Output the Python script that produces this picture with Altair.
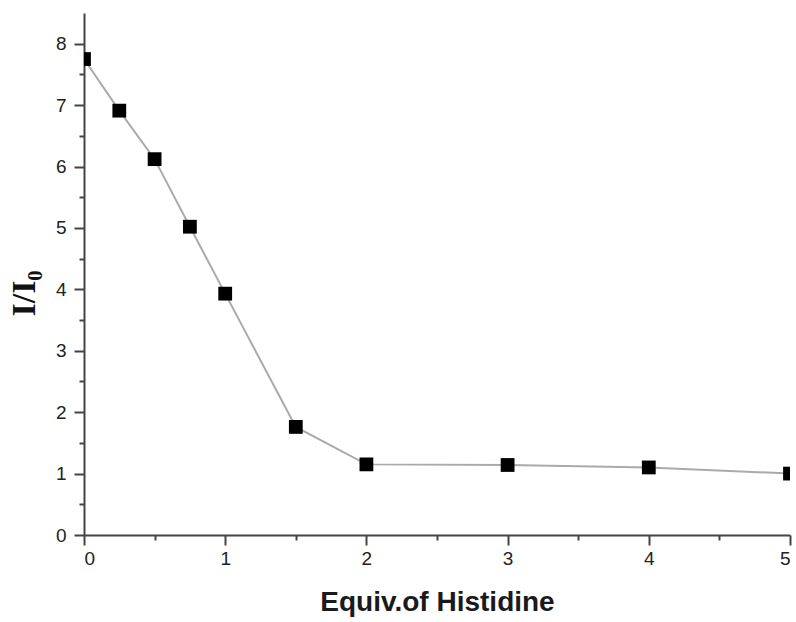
import altair as alt
import pandas as pd

equiv = [0, 0.25, 0.5, 0.75, 1, 1.5, 2, 3, 4, 5]
ratio = [7.75, 6.91, 6.12, 5.02, 3.93, 1.76, 1.15, 1.14, 1.10, 1.00]

x_ticks = [0, 0.5, 1, 1.5, 2, 2.5, 3, 3.5, 4, 4.5, 5]
y_ticks = [0, 0.5, 1, 1.5, 2, 2.5, 3, 3.5, 4, 4.5, 5, 5.5, 6, 6.5, 7, 7.5, 8]

df = pd.DataFrame({"x": equiv, "y": ratio})

label_expr = "datum.value % 1 === 0 ? format(datum.value, 'd') : ''"
# minor (half-unit) ticks drawn half as long via a dash pattern
minor_dash = {"condition": {"test": "datum.value % 1 !== 0", "value": [5, 30]}, "value": []}

x_enc = alt.X(
    "x:Q",
    scale=alt.Scale(domain=[0, 5], nice=False, zero=False),
    axis=alt.Axis(
        title="Equiv.of Histidine",
        values=x_ticks,
        labelExpr=label_expr,
        tickSize=10,
        tickDash=minor_dash,
        grid=False,
        labelPadding=4,
        titlePadding=20,
    ),
)
y_enc = alt.Y(
    "y:Q",
    scale=alt.Scale(domain=[0, 8.5], nice=False),
    axis=alt.Axis(
        title="I/I₀",
        values=y_ticks,
        labelExpr=label_expr,
        tickSize=10,
        tickDash=minor_dash,
        grid=False,
        labelPadding=8,
        titleFont="Liberation Serif",
        titleFontSize=34,
        titleFontWeight="bold",
        titleColor="#111",
        titlePadding=14,
        titleY=280,
    ),
)

base = alt.Chart(df).encode(x=x_enc, y=y_enc)
line = base.mark_line(color="#aaaaaa", strokeWidth=2, clip=True)
pts = base.mark_square(color="black", size=190, opacity=1, clip=True)

chart = (
    alt.layer(line, pts)
    .properties(
        width=706,
        height=522,
        autosize=alt.AutoSizeParams(type="none"),
        padding={"left": 84, "top": 13, "right": 6, "bottom": 87},
    )
    .configure_view(stroke=None)
    .configure_axis(
        domainColor="#444",
        domainWidth=2,
        tickColor="#444",
        tickWidth=2,
        labelFont="Liberation Sans",
        labelFontSize=19,
        labelColor="#222",
        titleFont="Liberation Sans",
        titleFontSize=28,
        titleFontWeight="bold",
        titleColor="#1a1a1a",
    )
)

chart.save("out.html", embed_options={"renderer": "svg", "actions": False})
